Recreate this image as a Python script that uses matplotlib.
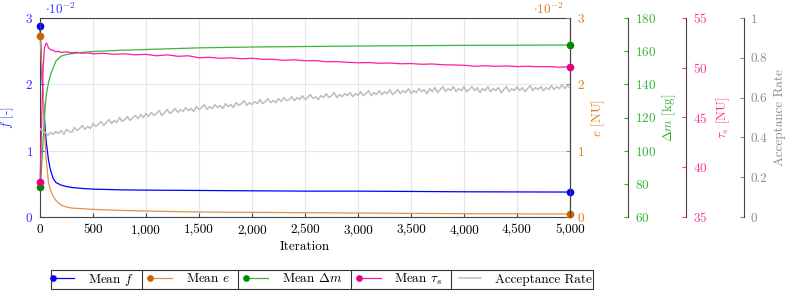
import numpy as np
import matplotlib
matplotlib.use('Agg')
import matplotlib.pyplot as plt
from matplotlib.legend_handler import HandlerLine2D
from matplotlib.ticker import FuncFormatter
from matplotlib.lines import Line2D

plt.rcParams.update({
    'font.family': 'serif',
    'font.serif': ['cmr10', 'DejaVu Serif'],
    'mathtext.fontset': 'cm',
    'axes.formatter.use_mathtext': True,
    'axes.unicode_minus': False,
    'font.size': 9.5,
})

# ---------------- data ----------------
iter_smooth = [0, 10, 20, 30, 40, 50, 60, 80, 100, 125, 150, 200, 250, 300, 400,
               500, 750, 1000, 1500, 2000, 2500, 3000, 3500, 4000, 4500, 5000]
mean_f_e2 = [2.88, 2.5, 2.1, 1.8, 1.55, 1.3, 1.12, 0.86, 0.70, 0.58, 0.52, 0.48, 0.46, 0.445, 0.43,
             0.42, 0.41, 0.405, 0.40, 0.395, 0.39, 0.39, 0.385, 0.38, 0.378, 0.376]
mean_e_e2 = [2.73, 2.45, 2.15, 1.85, 1.4, 1.05, 0.85, 0.52, 0.40, 0.31, 0.25, 0.18, 0.15, 0.135, 0.125,
             0.115, 0.10, 0.09, 0.075, 0.07, 0.065, 0.06, 0.055, 0.05, 0.047, 0.045]
mean_dm = [78, 85, 96, 107, 118, 127, 134, 141, 146, 150, 154, 157, 158, 158.5, 159.3,
           159.8, 160.5, 161, 162, 162.5, 162.8, 163.1, 163.3, 163.5, 163.6, 163.7]

iter_tau = [0, 10, 20, 30, 40, 50, 60, 70, 80, 100, 125, 150, 175, 200, 250, 300, 350, 400, 450,
            500, 600, 700, 800, 900, 1000, 1100, 1200, 1300, 1400, 1500, 1600, 1700, 1800, 1900,
            2000, 2100, 2200, 2300, 2400, 2500, 2600, 2700, 2800, 2900, 3000, 3100, 3200, 3300,
            3400, 3500, 3600, 3700, 3800, 3900, 4000, 4100, 4200, 4300, 4400, 4500, 4600, 4700,
            4800, 4900, 5000]
mean_tau = [38.5, 42, 46.5, 50, 51.8, 52.3, 52.5, 52.3, 52.0, 51.8, 51.75, 51.6, 51.65, 51.55,
            51.6, 51.5, 51.55, 51.45, 51.5, 51.4, 51.45, 51.35, 51.4, 51.3, 51.35, 51.2, 51.3,
            51.15, 51.2, 51.0, 51.05, 50.95, 51.0, 50.9, 50.95, 50.85, 50.85, 50.75, 50.8, 50.7,
            50.72, 50.6, 50.62, 50.55, 50.5, 50.52, 50.45, 50.48, 50.4, 50.42, 50.35, 50.38, 50.3,
            50.28, 50.25, 50.15, 50.2, 50.15, 50.18, 50.12, 50.15, 50.1, 50.12, 50.05, 50.1]

iter_acc = list(range(0, 5001, 25))
acceptance = [
    0.445, 0.43, 0.425, 0.41, 0.425, 0.415, 0.43, 0.42, 0.435, 0.415,
    0.44, 0.43, 0.425, 0.45, 0.435, 0.445, 0.46, 0.44, 0.455, 0.445,
    0.47, 0.455, 0.465, 0.48, 0.46, 0.475, 0.49, 0.47, 0.485, 0.475,
    0.50, 0.48, 0.49, 0.505, 0.485, 0.50, 0.51, 0.495, 0.515, 0.50,
    0.52, 0.505, 0.525, 0.51, 0.52, 0.535, 0.51, 0.525, 0.54, 0.52,
    0.53, 0.545, 0.525, 0.54, 0.53, 0.55, 0.535, 0.545, 0.53, 0.555,
    0.54, 0.55, 0.565, 0.54, 0.555, 0.545, 0.565, 0.55, 0.56, 0.545,
    0.57, 0.555, 0.565, 0.55, 0.575, 0.56, 0.57, 0.585, 0.56, 0.575,
    0.565, 0.58, 0.57, 0.59, 0.57, 0.58, 0.595, 0.575, 0.585, 0.575,
    0.595, 0.58, 0.60, 0.585, 0.59, 0.605, 0.585, 0.60, 0.59, 0.61,
    0.59, 0.60, 0.615, 0.595, 0.605, 0.59, 0.61, 0.60, 0.62, 0.60,
    0.61, 0.625, 0.60, 0.615, 0.605, 0.62, 0.61, 0.625, 0.605, 0.62,
    0.61, 0.63, 0.61, 0.62, 0.635, 0.61, 0.625, 0.615, 0.635, 0.615,
    0.63, 0.62, 0.64, 0.615, 0.625, 0.64, 0.62, 0.635, 0.625, 0.645,
    0.62, 0.635, 0.625, 0.645, 0.63, 0.64, 0.62, 0.645, 0.63, 0.65,
    0.625, 0.64, 0.655, 0.63, 0.645, 0.635, 0.655, 0.63, 0.645, 0.635,
    0.655, 0.63, 0.64, 0.655, 0.635, 0.65, 0.625, 0.645, 0.635, 0.655,
    0.63, 0.645, 0.635, 0.65, 0.625, 0.64, 0.655, 0.63, 0.645, 0.635,
    0.655, 0.635, 0.65, 0.63, 0.645, 0.66, 0.635, 0.65, 0.64, 0.655,
    0.635, 0.65, 0.64, 0.66, 0.64, 0.655, 0.645, 0.665, 0.645, 0.66,
    0.65]

x_ticks = list(range(0, 5001, 500))
f_ticks = [0, 1, 2, 3]
e_ticks = [0, 1, 2, 3]
dm_ticks = [60, 80, 100, 120, 140, 160, 180]
tau_ticks = [35, 40, 45, 50, 55]
acc_ticks = [0, 0.2, 0.4, 0.6, 0.8, 1]

# ---------------- colours ----------------
c_f, c_f_lab = '#0000ff', '#3333ff'
c_e, c_e_mk, c_e_lab = '#e3924a', '#c86400', '#e07b20'
c_dm, c_dm_mk, c_dm_lab = '#3cb43c', '#008c00', '#33b033'
c_tau, c_tau_mk, c_tau_lab = '#ff1aa0', '#e6007e', '#ff3399'
c_acc, c_acc_lab = '#bdbdbd', '#8c8c8c'
spine_c = '#444444'

W, H = 793, 292
fig = plt.figure(figsize=(W / 100, H / 100), dpi=100)
ax_l, ax_w = 40, 530
ax = fig.add_axes([ax_l / W, 1 - 217 / H, ax_w / W, 199 / H])

def px2ax(x):
    return (x - ax_l) / ax_w

ax_e = ax.twinx()
ax_dm = ax.twinx()
ax_tau = ax.twinx()
ax_acc = ax.twinx()
ax_dm.spines['right'].set_position(('axes', px2ax(628)))
ax_tau.spines['right'].set_position(('axes', px2ax(686)))
ax_acc.spines['right'].set_position(('axes', px2ax(744)))

lw = 0.9
ms = 4.5
l_acc, = ax_acc.plot(iter_acc, acceptance, color=c_acc, lw=1.1, label='Acceptance Rate')
l_f, = ax.plot(iter_smooth, mean_f_e2, color=c_f, lw=lw, marker='o', ms=ms, markevery=[0, -1],
               mfc=c_f, mec=c_f, label='Mean $f$')
l_e, = ax_e.plot(iter_smooth, mean_e_e2, color=c_e, lw=lw, marker='o', ms=ms, markevery=[0, -1],
                 mfc=c_e_mk, mec=c_e_mk, label='Mean $e$')
l_dm, = ax_dm.plot(iter_smooth, mean_dm, color=c_dm, lw=lw, marker='o', ms=ms, markevery=[0, -1],
                   mfc=c_dm_mk, mec=c_dm_mk, label=r'Mean $\Delta m$')
l_tau, = ax_tau.plot(iter_tau, mean_tau, color=c_tau, lw=lw, marker='o', ms=ms, markevery=[0, -1],
                     mfc=c_tau_mk, mec=c_tau_mk, label=r'Mean $\tau_s$')
for ln in (l_f, l_e, l_dm, l_tau):
    ln.set_clip_on(False)

# main axis
ax.set_xlim(0, 5000)
ax.set_ylim(0, 3)
ax.set_xticks(x_ticks)
ax.xaxis.set_major_formatter(FuncFormatter(lambda v, p: f'{int(v):,}'))
ax.set_yticks(f_ticks)
ax.grid(True, color='#e6e6e6', lw=0.8)
ax.set_axisbelow(True)
ax.tick_params(axis='x', direction='in', length=3, colors=spine_c, labelcolor='black', pad=5)
ax.tick_params(axis='y', direction='in', length=3, colors=c_f_lab, labelcolor=c_f_lab, pad=5)
for s in ax.spines.values():
    s.set_color(spine_c)
    s.set_linewidth(0.8)
ax.set_xlabel('Iteration')
ax.xaxis.set_label_coords(0.5, -(253 - 217) / 199)
ax.xaxis.label.set_va('bottom')
ax.set_ylabel('$f$ [-]', color=c_f_lab)
ax.yaxis.set_label_coords(px2ax(16), 0.5)
fig.text(45 / W, 1 - 9 / H, r'$\cdot 10^{-2}$', color=c_f_lab, fontsize=9.5, va='center', ha='left')

def style_twin(a, lim, ticks, col, lab, lab_x, fmt=None):
    a.set_ylim(*lim)
    a.set_yticks(ticks)
    if fmt is not None:
        a.yaxis.set_major_formatter(FuncFormatter(fmt))
    a.tick_params(axis='y', direction='in', length=3, colors=col, labelcolor=col, pad=5)
    for name, s in a.spines.items():
        s.set_visible(name == 'right')
    a.spines['right'].set_color(spine_c)
    a.spines['right'].set_linewidth(0.8)
    a.set_ylabel(lab, color=col)
    a.yaxis.set_label_coords(px2ax(lab_x), 0.5)
    a.patch.set_visible(False)

style_twin(ax_e, (0, 3), e_ticks, c_e_lab, '$e$ [NU]', 589)
style_twin(ax_dm, (60, 180), dm_ticks, c_dm_lab, r'$\Delta m$ [kg]', 660)
style_twin(ax_tau, (35, 55), tau_ticks, c_tau_lab, r'$\tau_s$ [NU]', 714)
style_twin(ax_acc, (0, 1), acc_ticks, c_acc_lab, 'Acceptance Rate', 774,
           fmt=lambda v, p: ('%g' % v))
fig.text(533 / W, 1 - 9 / H, r'$\cdot 10^{-2}$', color=c_e_lab, fontsize=9.5, va='center', ha='left')

# legend
class LeftMarker(HandlerLine2D):
    def create_artists(self, *args, **kwargs):
        arts = super().create_artists(*args, **kwargs)
        for a in arts:
            if isinstance(a, Line2D) and a.get_marker() not in (None, 'None', ''):
                a.set_markevery([0])
        return arts

fs = 9.5
fs_px = fs * 100 / 72
colsp = 1.25
handles = [l_f, l_e, l_dm, l_tau, l_acc]
hm = {h: LeftMarker() for h in handles}
leg = fig.legend(handles=handles, handler_map=hm, ncol=5, loc='center',
                 bbox_to_anchor=(322 / W, 1 - 279.5 / H), frameon=True, fancybox=False,
                 edgecolor='#333333', framealpha=1, handlelength=1.65, handletextpad=1.05,
                 columnspacing=colsp, borderpad=0.15, borderaxespad=0, numpoints=1,
                 fontsize=fs, markerscale=0.85)
leg.get_frame().set_linewidth(0.8)

fig.canvas.draw()
r = fig.canvas.get_renderer()
texts = leg.get_texts()
fb = leg.get_frame().get_window_extent(r)
for i in range(4):
    x1 = texts[i].get_window_extent(r).x1
    xs = (x1 + colsp * fs_px / 2) / W
    fig.add_artist(Line2D([xs, xs], [fb.y0 / H, fb.y1 / H], transform=fig.transFigure,
                          color='#333333', lw=0.8, zorder=10))

fig.savefig('out.png', dpi=100)
